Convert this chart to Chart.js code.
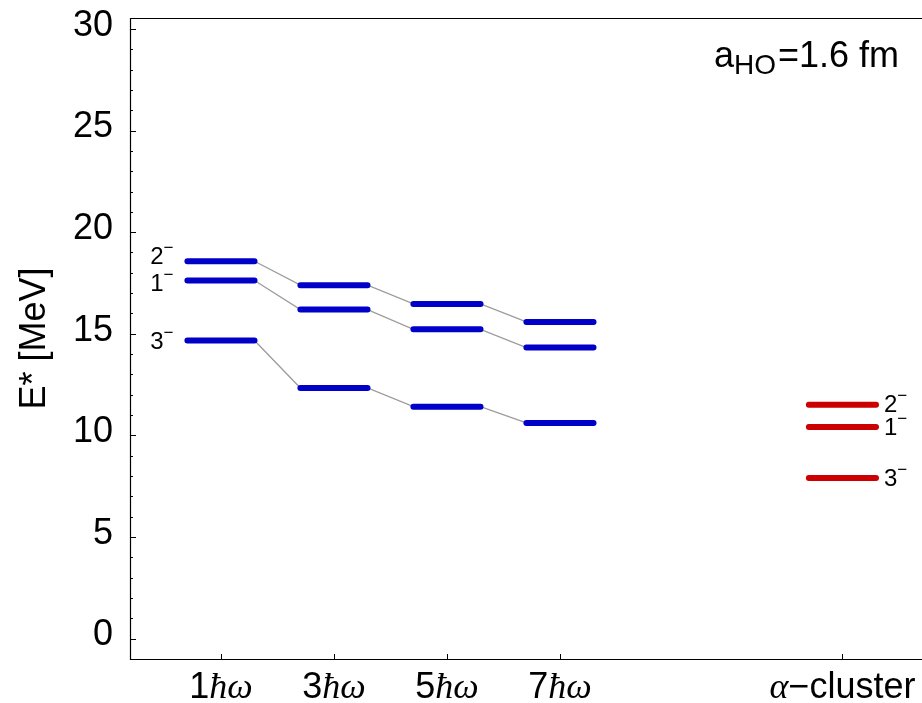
<!DOCTYPE html>
<html>
<head>
<meta charset="utf-8">
<title>Negative-parity levels vs. model space</title>
<script src="https://cdn.jsdelivr.net/npm/chart.js@4.4.1/dist/chart.umd.min.js"></script>
<style>
  html, body { margin: 0; padding: 0; background: #fff; }
  #wrap { width: 922px; height: 703px; }
</style>
</head>
<body>
<div id="wrap"><canvas id="levels" width="922" height="703"></canvas></div>
<script>
// --- values (E* in MeV) ---
const columns = ['1ħω', '3ħω', '5ħω', '7ħω', 'α−cluster'];
const columnX = [1, 2, 3, 4, 6.5];
const spins = ['2', '1', '3'];                       // all negative parity
const level2 = [18.57, 17.39, 16.47, 15.58, 11.51];  // 2-
const level1 = [17.62, 16.19, 15.22, 14.32, 10.41];  // 1-
const level3 = [14.67, 12.33, 11.41, 10.61, 7.90];   // 3-
const yTicks = [0, 5, 10, 15, 20, 25, 30];
const annotation = { base: 'a', sub: 'HO', rest: '=1.6 fm' };

const levels = [level2, level1, level3];
const shellCols = [0, 1, 2, 3];
const clusterCols = [4];

// --- styling ---
const SANS = '"Liberation Sans", Arial, Helvetica, sans-serif';
const SERIF = '"Liberation Serif", "Times New Roman", serif';
const BLUE = 'rgb(0,0,200)';
const RED = 'rgb(204,0,0)';
const LINK = '#9c9c9c';
const HALF = 0.297;   // half length of a level bar in x units

// a level bar for every chosen column, broken by null points
function barPoints(vals, cols){
  const pts = [];
  cols.forEach((c, k) => {
    if (k) pts.push({x: columnX[c], y: null});
    pts.push({x: columnX[c] - HALF, y: vals[c]}, {x: columnX[c] + HALF, y: vals[c]});
  });
  return pts;
}
// thin connector from the end of one bar to the start of the next
function linkPoints(vals){
  const pts = [];
  shellCols.forEach((c, k) => {
    if (k) pts.push({x: columnX[c] - HALF, y: vals[c]});
    if (k < shellCols.length - 1) pts.push({x: columnX[c] + HALF, y: vals[c]});
  });
  return pts;
}

const datasets = [];
levels.forEach((vals, i) => {
  datasets.push({label: spins[i] + '- links', data: linkPoints(vals), borderColor: LINK,
    borderWidth: 1.3, order: 3});
  datasets.push({label: spins[i] + '- shell model', data: barPoints(vals, shellCols), borderColor: BLUE,
    borderWidth: 6, borderCapStyle: 'round', order: 1});
  datasets.push({label: spins[i] + '- cluster', data: barPoints(vals, clusterCols), borderColor: RED,
    borderWidth: 6, borderCapStyle: 'round', order: 1});
});

// draw "2" with a raised minus
function drawSpin(ctx, j, x, y, align){
  ctx.font = '24px ' + SANS;
  const w1 = ctx.measureText(j).width;
  ctx.font = '17px ' + SANS;
  const w2 = ctx.measureText('−').width;
  const x0 = align === 'right' ? x - w1 - w2 : x;
  ctx.textAlign = 'left';
  ctx.textBaseline = 'alphabetic';
  ctx.font = '24px ' + SANS;
  ctx.fillText(j, x0, y + 8.6);
  ctx.font = '17px ' + SANS;
  ctx.fillText('−', x0 + w1, y - 2.4);
}

// split a label into plain / italic-serif runs
function runs(text){
  const out = [];
  for (const ch of text) {
    const it = /[ħωα]/.test(ch);
    if (out.length && out[out.length - 1].it === it) out[out.length - 1].s += ch;
    else out.push({s: ch, it: it});
  }
  return out;
}

const decor = {
  id: 'decor',
  afterDraw(chart){
    const ctx = chart.ctx, ca = chart.chartArea;
    const xs = chart.scales.x, ys = chart.scales.y;
    ctx.save();
    // frame: left, top, bottom (right side is off the picture)
    ctx.strokeStyle = '#000';
    ctx.lineWidth = 1.2;
    ctx.beginPath();
    ctx.moveTo(ca.right, ca.top + 0.5); ctx.lineTo(ca.left + 0.5, ca.top + 0.5);
    ctx.lineTo(ca.left + 0.5, ca.bottom + 0.5); ctx.lineTo(ca.right, ca.bottom + 0.5);
    ctx.stroke();
    // inward ticks on y
    ctx.lineWidth = 1;
    ctx.beginPath();
    for (let v = Math.ceil(ys.min); v <= Math.floor(ys.max); v++) {
      const py = Math.round(ys.getPixelForValue(v)) + 0.5;
      const len = yTicks.includes(v) ? 6 : 3;
      ctx.moveTo(ca.left, py); ctx.lineTo(ca.left + len, py);
    }
    // inward ticks on x
    columnX.forEach(v => {
      const px = Math.round(xs.getPixelForValue(v)) + 0.5;
      ctx.moveTo(px, ca.bottom); ctx.lineTo(px, ca.bottom - 5);
    });
    ctx.stroke();

    // x labels
    ctx.fillStyle = '#000';
    ctx.textBaseline = 'alphabetic';
    ctx.textAlign = 'left';
    columns.forEach((lab, i) => {
      const parts = runs(lab).map(r => {
        ctx.font = (r.it ? 'italic 36px ' + SERIF : '36px ' + SANS);
        return {s: r.s, f: ctx.font, w: ctx.measureText(r.s).width};
      });
      const total = parts.reduce((a, p) => a + p.w, 0);
      let x = xs.getPixelForValue(columnX[i]) - total / 2;
      parts.forEach(p => { ctx.font = p.f; ctx.fillText(p.s, x, 698); x += p.w; });
    });

    // spin labels: left of the first column, right of the cluster column
    const leftNudge = [-6, 2, 0];
    const rightNudge = [-1, -1, -1];
    levels.forEach((vals, i) => {
      const yl = ys.getPixelForValue(vals[0]) + leftNudge[i];
      drawSpin(ctx, spins[i], xs.getPixelForValue(columnX[0] - HALF) - 3 - 11, yl, 'right');
      const c = clusterCols[0];
      const yr = ys.getPixelForValue(vals[c]) + rightNudge[i];
      drawSpin(ctx, spins[i], xs.getPixelForValue(columnX[c] + HALF) + 3 + 5, yr, 'left');
    });

    // a_HO annotation
    ctx.textAlign = 'left';
    ctx.font = '36px ' + SANS;
    ctx.fillText(annotation.base, 714, 67);
    ctx.font = '28px ' + SANS;
    ctx.fillText(annotation.sub, 734, 74);
    ctx.font = '36px ' + SANS;
    ctx.fillText(annotation.rest, 778, 67);
    ctx.restore();
  }
};

new Chart(document.getElementById('levels'), {
  type: 'scatter',
  data: {datasets: datasets},
  options: {
    responsive: false,
    animation: false,
    events: [],
    showLine: true,
    spanGaps: false,
    layout: {padding: {top: 18, right: 0, bottom: 44, left: 0}},
    elements: {point: {radius: 0, hoverRadius: 0}},
    plugins: {legend: {display: false}, tooltip: {enabled: false}},
    scales: {
      x: {type: 'linear', display: false, min: 0.195, max: 7.204},
      y: {
        type: 'linear', min: -1.009, max: 30.541,
        afterBuildTicks: s => { s.ticks = yTicks.map(v => ({value: v})); },
        afterFit: s => { s.width = 130; s.paddingTop = 0; s.paddingBottom = 0; },
        grid: {display: false, drawTicks: false, tickLength: 0},
        border: {display: false},
        ticks: {color: '#000', padding: 17, labelOffset: -3, font: {family: SANS, size: 36}},
        title: {display: true, text: 'E* [MeV]', color: '#000', padding: {top: 13, bottom: 0},
          font: {family: SANS, size: 36}}
      }
    }
  },
  plugins: [decor]
});
</script>
</body>
</html>
